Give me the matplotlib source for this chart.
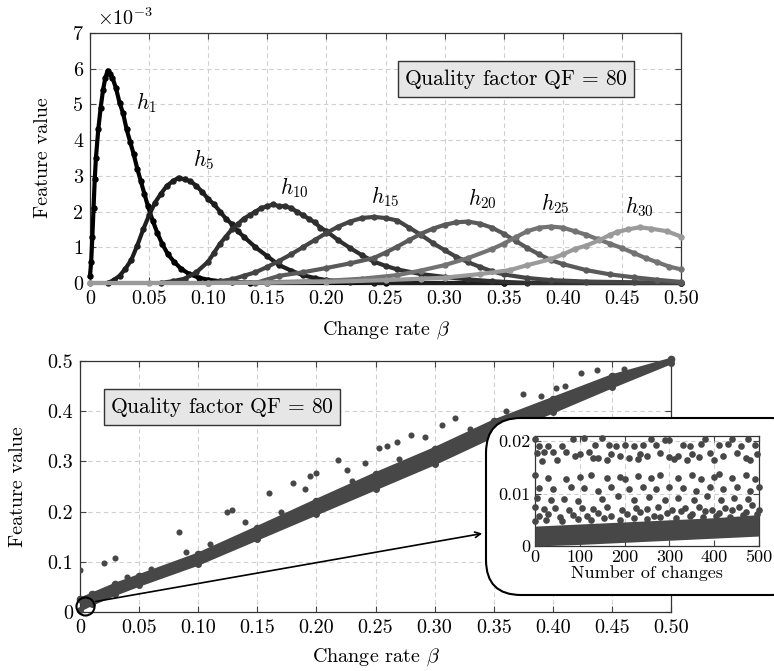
import numpy as np
import matplotlib
matplotlib.use("Agg")
import matplotlib.pyplot as plt
from matplotlib.patches import FancyBboxPatch

plt.rcParams['font.family'] = 'serif'
plt.rcParams['font.serif'] = ['cmr10']
plt.rcParams['mathtext.fontset'] = 'cm'
plt.rcParams['axes.unicode_minus'] = False

# ---- top panel: feature curves h_k (values x 1e-3) ----
h1_x = [0, 0.001, 0.002, 0.003, 0.004, 0.005, 0.007, 0.009, 0.011, 0.013, 0.015, 0.017, 0.019,
        0.022, 0.025, 0.028, 0.031, 0.034, 0.037, 0.040, 0.043, 0.046, 0.049, 0.053, 0.057,
        0.061, 0.066, 0.071, 0.077, 0.084, 0.092, 0.10, 0.11, 0.12, 0.135, 0.15, 0.25, 0.35, 0.5]
h1_y = [0.2, 0.6, 1.3, 2.1, 2.9, 3.5, 4.3, 4.9, 5.4, 5.75, 5.95, 5.85, 5.75,
        5.45, 5.05, 4.75, 4.3, 3.95, 3.6, 3.2, 2.85, 2.5, 2.15, 1.75, 1.4,
        1.1, 0.8, 0.6, 0.4, 0.25, 0.15, 0.09, 0.05, 0.03, 0.01, 0.0, 0.0, 0.0, 0.0]

h5_x = [0.015, 0.02, 0.025, 0.03, 0.035, 0.04, 0.045, 0.05, 0.055, 0.06, 0.065, 0.07, 0.075,
        0.08, 0.085, 0.09, 0.095, 0.10, 0.105, 0.11, 0.115, 0.12, 0.125, 0.13, 0.14, 0.15,
        0.16, 0.17, 0.18, 0.19, 0.20, 0.22, 0.24, 0.35, 0.5]
h5_y = [0.0, 0.08, 0.2, 0.4, 0.65, 1.05, 1.5, 1.9, 2.25, 2.5, 2.72, 2.85, 2.95,
        2.9, 2.85, 2.72, 2.55, 2.35, 2.2, 2.0, 1.8, 1.65, 1.45, 1.3, 1.0, 0.75,
        0.5, 0.35, 0.22, 0.14, 0.08, 0.03, 0.0, 0.0, 0.0]

h10_x = [0.06, 0.07, 0.08, 0.09, 0.10, 0.105, 0.11, 0.115, 0.12, 0.125, 0.13, 0.135, 0.14,
         0.145, 0.15, 0.155, 0.16, 0.165, 0.17, 0.175, 0.18, 0.185, 0.19, 0.195, 0.20, 0.21,
         0.22, 0.23, 0.24, 0.25, 0.26, 0.28, 0.30, 0.32, 0.34, 0.37, 0.5]
h10_y = [0.0, 0.05, 0.12, 0.3, 0.6, 0.85, 1.1, 1.3, 1.5, 1.65, 1.8, 1.9, 2.0,
         2.1, 2.15, 2.2, 2.15, 2.15, 2.1, 2.0, 1.9, 1.8, 1.7, 1.55, 1.45, 1.2,
         0.98, 0.78, 0.6, 0.48, 0.38, 0.25, 0.17, 0.1, 0.05, 0.0, 0.0]

h15_x = [0.10, 0.12, 0.13, 0.14, 0.15, 0.16, 0.17, 0.18, 0.19, 0.20, 0.21, 0.22, 0.23, 0.24,
         0.25, 0.26, 0.27, 0.28, 0.29, 0.30, 0.31, 0.32, 0.33, 0.34, 0.35, 0.37, 0.39, 0.42,
         0.46, 0.50]
h15_y = [0.0, 0.1, 0.2, 0.3, 0.45, 0.62, 0.8, 1.0, 1.2, 1.4, 1.58, 1.72, 1.82, 1.85,
         1.82, 1.75, 1.55, 1.35, 1.12, 0.92, 0.73, 0.58, 0.45, 0.33, 0.24, 0.14, 0.08, 0.04,
         0.02, 0.01]

h20_x = [0.14, 0.16, 0.18, 0.20, 0.22, 0.24, 0.25, 0.26, 0.27, 0.28, 0.29, 0.30, 0.31, 0.32,
         0.33, 0.34, 0.35, 0.36, 0.37, 0.38, 0.39, 0.40, 0.42, 0.44, 0.46, 0.48, 0.50]
h20_y = [0.0, 0.2, 0.3, 0.42, 0.55, 0.7, 0.85, 1.02, 1.2, 1.38, 1.52, 1.63, 1.7, 1.72,
         1.66, 1.55, 1.38, 1.18, 0.98, 0.8, 0.64, 0.53, 0.36, 0.24, 0.16, 0.09, 0.03]

h25_x = [0, 0.1, 0.15, 0.2, 0.23, 0.26, 0.28, 0.30, 0.32, 0.34, 0.35, 0.36, 0.37, 0.38, 0.39,
         0.40, 0.41, 0.42, 0.43, 0.44, 0.45, 0.46, 0.47, 0.48, 0.49, 0.50]
h25_y = [0, 0, 0.02, 0.06, 0.12, 0.22, 0.35, 0.5, 0.7, 0.95, 1.1, 1.28, 1.45, 1.55, 1.58,
         1.55, 1.45, 1.35, 1.22, 1.1, 0.98, 0.84, 0.7, 0.58, 0.46, 0.38]

h30_x = [0, 0.05, 0.10, 0.15, 0.20, 0.25, 0.28, 0.30, 0.33, 0.355, 0.37, 0.389, 0.40, 0.41,
         0.42, 0.431, 0.44, 0.446, 0.455, 0.465, 0.475, 0.488, 0.50]
h30_y = [0, 0, 0, 0.01, 0.03, 0.08, 0.12, 0.15, 0.25, 0.36, 0.5, 0.66, 0.8, 0.95,
         1.05, 1.2, 1.35, 1.43, 1.5, 1.56, 1.52, 1.45, 1.3]

curve_names = ['1', '5', '10', '15', '20', '25', '30']
label_x = [0.048, 0.096, 0.173, 0.25, 0.332, 0.394, 0.465]
label_y = [5.04, 3.45, 2.66, 2.41, 2.35, 2.21, 2.13]

# ---- bottom panel: feature value vs change rate ----
band_beta = [0, 0.01, 0.03, 0.05, 0.1, 0.15, 0.2, 0.25, 0.3, 0.35, 0.4, 0.45, 0.5]
band_low = [0.003, 0.015, 0.035, 0.053, 0.095, 0.145, 0.195, 0.245, 0.295, 0.35, 0.398, 0.448, 0.496]
band_high = [0.025, 0.035, 0.055, 0.072, 0.115, 0.168, 0.222, 0.275, 0.325, 0.38, 0.425, 0.47, 0.503]
outlier_beta = [0.0, 0.02, 0.03, 0.084, 0.124, 0.129, 0.16, 0.18, 0.195, 0.2, 0.218, 0.226,
                0.241, 0.253, 0.26, 0.268, 0.28, 0.292, 0.306, 0.317, 0.375, 0.403, 0.424, 0.437,
                0.04, 0.06, 0.09, 0.11, 0.14, 0.17, 0.19, 0.23, 0.27, 0.33, 0.36, 0.39, 0.41, 0.46]
outlier_val = [0.083, 0.098, 0.108, 0.159, 0.2, 0.204, 0.237, 0.257, 0.271, 0.277, 0.303, 0.283,
               0.296, 0.326, 0.331, 0.339, 0.352, 0.348, 0.372, 0.386, 0.434, 0.446, 0.476, 0.482,
               0.07, 0.085, 0.12, 0.135, 0.18, 0.2, 0.245, 0.26, 0.305, 0.365, 0.4, 0.43, 0.45, 0.485]

# ---- inset: first 500 changes ----
inset_band_n = [0, 100, 200, 300, 400, 500]
inset_band_low = [0, 0.0003, 0.0007, 0.0011, 0.0015, 0.0019]
inset_band_high = [0.0038, 0.0042, 0.0046, 0.005, 0.0054, 0.006]
inset_points = [
    (0, 0.0205), (85, 0.0205), (110, 0.0207), (150, 0.0207), (260, 0.0205), (290, 0.0203),
    (300, 0.0203), (380, 0.0204), (440, 0.0205), (475, 0.0205),
    (10, 0.019), (30, 0.019), (60, 0.019), (135, 0.0193), (165, 0.0192), (180, 0.019),
    (200, 0.0193), (220, 0.019), (240, 0.0192), (270, 0.0192), (330, 0.0192), (345, 0.019),
    (370, 0.0194), (410, 0.0192), (430, 0.0195), (460, 0.019), (490, 0.0192),
    (5, 0.0178), (20, 0.018), (40, 0.018), (70, 0.018), (90, 0.0172), (100, 0.0175),
    (120, 0.018), (140, 0.0168), (170, 0.0175), (190, 0.0172), (210, 0.0168), (235, 0.0175),
    (250, 0.0172), (280, 0.0178), (300, 0.017), (320, 0.0172), (350, 0.0175), (365, 0.017),
    (390, 0.0178), (420, 0.0172), (450, 0.0178), (470, 0.0168), (495, 0.0175),
    (15, 0.0162), (50, 0.0165), (130, 0.0168), (160, 0.0165), (230, 0.0167), (310, 0.0166),
    (340, 0.0165), (400, 0.0165), (480, 0.0164),
    (0, 0.0135), (30, 0.013), (70, 0.0128), (100, 0.0132), (125, 0.0135), (160, 0.013),
    (190, 0.0132), (200, 0.0128), (230, 0.0133), (260, 0.013), (280, 0.0135), (320, 0.013),
    (350, 0.0135), (370, 0.0128), (400, 0.0132), (410, 0.0137), (440, 0.013), (470, 0.0136),
    (490, 0.0128),
    (10, 0.011), (40, 0.0108), (80, 0.0112), (110, 0.011), (140, 0.0105), (170, 0.0112),
    (210, 0.0108), (240, 0.0112), (270, 0.0108), (300, 0.0112), (330, 0.011), (360, 0.0105),
    (390, 0.0112), (420, 0.0108), (450, 0.0112), (480, 0.0105), (500, 0.0112),
    (5, 0.0092), (35, 0.0088), (65, 0.009), (95, 0.0086), (150, 0.009), (185, 0.0095),
    (220, 0.0088), (255, 0.0093), (290, 0.0088), (320, 0.0092), (355, 0.0088), (385, 0.0095),
    (415, 0.0088), (445, 0.0092), (475, 0.009),
    (0, 0.0075), (20, 0.007), (45, 0.0072), (75, 0.0068), (105, 0.0072), (130, 0.007),
    (160, 0.0074), (195, 0.0068), (225, 0.0072), (250, 0.007), (275, 0.0074), (305, 0.0068),
    (335, 0.0072), (365, 0.0075), (395, 0.0068), (425, 0.0072), (455, 0.0075), (485, 0.0078),
    (10, 0.0058), (30, 0.0062), (55, 0.0056), (85, 0.006), (115, 0.0058), (140, 0.0063),
    (170, 0.0057), (205, 0.0061), (235, 0.0064), (265, 0.0058), (295, 0.0063), (325, 0.0066),
    (350, 0.0061), (380, 0.0067), (410, 0.0063), (440, 0.0068), (470, 0.0065), (500, 0.0069),
    (0, 0.0048), (25, 0.005), (60, 0.0047), (95, 0.0051), (125, 0.0049), (155, 0.0053),
    (190, 0.005), (220, 0.0054), (250, 0.0052), (280, 0.0055), (315, 0.0053), (345, 0.0057),
    (375, 0.0055), (405, 0.0058), (435, 0.0056), (465, 0.006), (495, 0.0062),
]

beta_ticks = [0, 0.05, 0.10, 0.15, 0.20, 0.25, 0.30, 0.35, 0.40, 0.45, 0.50]
beta_labels = ['0', '0.05', '0.10', '0.15', '0.20', '0.25', '0.30', '0.35', '0.40', '0.45', '0.50']

FS = 14.5
grid_kw = dict(color='#cfcfcf', linestyle=(0, (4, 3)), linewidth=0.8)
box_text = r'Quality factor QF$\,=\,$80'


def style_axes(ax, fs=FS):
    ax.tick_params(direction='in', top=True, right=True, length=4, width=0.8,
                   labelsize=fs, pad=5, color='#444444')
    for s in ax.spines.values():
        s.set_color('#333333')
        s.set_linewidth(0.9)
    ax.grid(True, **grid_kw)
    ax.set_axisbelow(True)


def place_labels(ax, xpos, ypos):
    ax.xaxis.set_label_coords(0.5, xpos)
    ax.yaxis.set_label_coords(ypos, 0.5)
    ax.xaxis.label.set_va('center')
    ax.yaxis.label.set_va('center')


fig = plt.figure(figsize=(7.74, 6.71), dpi=100)

# top axes
ax1 = fig.add_axes([90 / 774, 1 - 283 / 671, 591 / 774, 250 / 671])
colors = ['#000000', '#1e1e1e', '#303030', '#454545', '#5a5a5a', '#737373', '#9a9a9a']
curves = [(h1_x, h1_y), (h5_x, h5_y), (h10_x, h10_y), (h15_x, h15_y),
          (h20_x, h20_y), (h25_x, h25_y), (h30_x, h30_y)]
for (cx, cy), c in zip(curves, colors):
    ax1.plot(cx, cy, '-', color=c, lw=3.0, clip_on=False, zorder=3)
    ax1.plot(cx, cy, 'o', color=c, ms=4.6, mew=0, clip_on=False, zorder=3)
for name, lx, ly in zip(curve_names, label_x, label_y):
    ax1.text(lx, ly, r'$h_{%s}$' % name, fontsize=15.5, ha='center', va='center')
ax1.set_xlim(0, 0.5)
ax1.set_ylim(0, 7)
ax1.set_xticks(beta_ticks)
ax1.set_xticklabels(beta_labels)
ax1.set_yticks(range(8))
ax1.set_yticklabels([str(i) for i in range(8)])
style_axes(ax1)
ax1.set_xlabel(r'Change rate $\beta$', fontsize=FS)
ax1.set_ylabel('Feature value', fontsize=FS)
place_labels(ax1, -0.188, -0.08)
ax1.text(0.721, 0.816, box_text, transform=ax1.transAxes, fontsize=15.5,
         ha='center', va='center',
         bbox=dict(boxstyle='square,pad=0.28', fc='#e6e6e6', ec='#333333', lw=1))
fig.text(97 / 774, 1 - 18 / 671, r'$\times 10^{-3}$', fontsize=FS, ha='left', va='center')

# bottom axes
ax2 = fig.add_axes([80 / 774, 1 - 612 / 671, 591 / 774, 251 / 671])
pc = '#474747'
ax2.fill_between(band_beta, band_low, band_high, color=pc, lw=0, zorder=3)
ax2.plot(band_beta, band_low, 'o-', color=pc, ms=4, lw=2, zorder=3, clip_on=False)
ax2.plot(band_beta, band_high, 'o-', color=pc, ms=4.5, lw=2.5, zorder=3, clip_on=False)
ax2.plot(outlier_beta, outlier_val, 'o', color=pc, ms=4.4, mew=0, zorder=3)
ax2.plot([0.0045], [0.012], 'o', ms=13, mfc='none', mec='black', mew=1.5,
         zorder=4, clip_on=False)
ax2.set_xlim(0, 0.5)
ax2.set_ylim(0, 0.5)
ax2.set_xticks(beta_ticks)
ax2.set_xticklabels(beta_labels)
ax2.set_yticks([0, 0.1, 0.2, 0.3, 0.4, 0.5])
ax2.set_yticklabels(['0', '0.1', '0.2', '0.3', '0.4', '0.5'])
style_axes(ax2)
ax2.set_xlabel(r'Change rate $\beta$', fontsize=FS)
ax2.set_ylabel('Feature value', fontsize=FS)
place_labels(ax2, -0.179, -0.105)
ax2.text(0.24, 0.817, box_text, transform=ax2.transAxes, fontsize=15.5,
         ha='center', va='center',
         bbox=dict(boxstyle='square,pad=0.28', fc='#e6e6e6', ec='#333333', lw=1))

# arrow from zoomed region to inset
ax2.annotate('', xy=(485, 671 - 533), xycoords='figure pixels',
             xytext=(93, 671 - 602), textcoords='figure pixels',
             arrowprops=dict(arrowstyle='->', lw=1.2, color='black'), zorder=5)

# rounded inset frame
frame = FancyBboxPatch((4.86, 0.76), 3.2, 1.77, boxstyle='round,pad=0,rounding_size=0.35',
                       transform=fig.dpi_scale_trans, fc='white', ec='black', lw=1.5,
                       zorder=2)
fig.patches.append(frame)

ax3 = fig.add_axes([535 / 774, 1 - 546 / 671, 224 / 774, 110 / 671], zorder=3)
ax3.fill_between(inset_band_n, inset_band_low, inset_band_high, color=pc, lw=0, zorder=3)
in_n = [p[0] for p in inset_points]
in_v = [p[1] for p in inset_points]
ax3.plot(in_n, in_v, 'o', color=pc, ms=4.8, mew=0, zorder=3, clip_on=False)
ax3.set_xlim(0, 500)
ax3.set_ylim(0, 0.021)
ax3.set_xticks([0, 100, 200, 300, 400, 500])
ax3.set_xticklabels(['0', '100', '200', '300', '400', '500'])
ax3.set_yticks([0, 0.01, 0.02])
ax3.set_yticklabels(['0', '0.01', '0.02'])
style_axes(ax3, fs=13)
ax3.tick_params(pad=3)
ax3.set_xlabel('Number of changes', fontsize=13, labelpad=0)

fig.savefig('out.png', dpi=100)
